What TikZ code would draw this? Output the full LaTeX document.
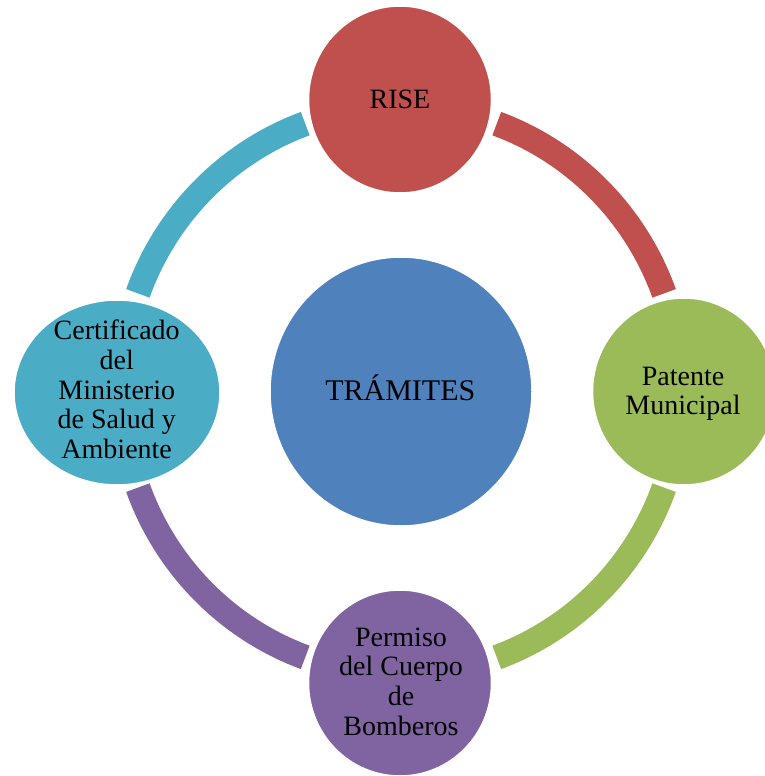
\documentclass[tikz,border=0pt]{standalone}
\usepackage{fontspec}
\setmainfont{Liberation Serif}
\usetikzlibrary{shapes.geometric}
\definecolor{cRed}{HTML}{C0504D}
\definecolor{cGreen}{HTML}{9BBB59}
\definecolor{cPurple}{HTML}{8064A2}
\definecolor{cTeal}{HTML}{4BACC6}
\definecolor{cBlue}{HTML}{4F81BD}
\begin{document}
\begin{tikzpicture}[x=1pt,y=1pt,
  bubble/.style={ellipse, inner sep=0pt, draw=white, line width=1.5pt},
  ringarc/.style={line width=25pt, line cap=butt},
  lbl/.style={font=\fontsize{28}{29.75}\selectfont, align=center, text=black, inner sep=0pt}]
\useasboundingbox (0,0) rectangle (765,-776);
\clip (0,0) rectangle (765,-776);
\coordinate (ringc) at (401,-390.5);
% ring segments
\draw[ringarc, cRed]    ([shift={(20:280 and 284)}]ringc)  arc[start angle=20,  end angle=70,  x radius=280, y radius=284];
\draw[ringarc, cTeal]   ([shift={(110:280 and 284)}]ringc) arc[start angle=110, end angle=160, x radius=280, y radius=284];
\draw[ringarc, cPurple] ([shift={(200:280 and 284)}]ringc) arc[start angle=200, end angle=250, x radius=280, y radius=284];
\draw[ringarc, cGreen]  ([shift={(290:280 and 284)}]ringc) arc[start angle=290, end angle=340, x radius=280, y radius=284];
% circles
\node[bubble, fill=cBlue,   minimum width=262pt, minimum height=269pt] (tram) at (401,-391.5) {};
\node[bubble, fill=cRed,    minimum width=183pt, minimum height=187pt] (rise) at (400,-99.5) {};
\node[bubble, fill=cGreen,  minimum width=183pt, minimum height=187pt] (pat)  at (684,-391.5) {};
\node[bubble, fill=cPurple, minimum width=183pt, minimum height=186pt] (bomb) at (400,-683) {};
\node[bubble, fill=cTeal,   minimum width=206pt, minimum height=185pt] (cert) at (117,-392.5) {};
% labels
\node[lbl] (riseT) at (400,-99) {RISE};
\node[lbl, font=\fontsize{30}{32}\selectfont] (tramT) at (400.3,-387.3) {TRÁMITES};
\node[lbl] (patT) at (683,-393.8) {Patente\\Municipal};
\node[lbl] (certT) at (116.7,-389.3) {Certificado\\del\\Ministerio\\de Salud y\\Ambiente};
\node[lbl] (bombT) at (401,-681.5) {Permiso\\del Cuerpo\\de\\Bomberos};
\end{tikzpicture}
\end{document}
